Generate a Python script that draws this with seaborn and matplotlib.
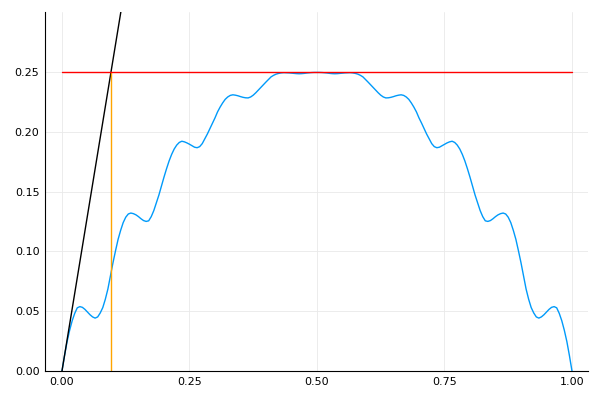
import pandas as pd
import seaborn as sns
import matplotlib
matplotlib.use("Agg")
import matplotlib.pyplot as plt

# blue curve at steps of 0.005
x_vals = [round(i * 0.005, 3) for i in range(201)]
left_half = [
    0.0, 0.0128, 0.0245, 0.0340, 0.0420, 0.0482, 0.0528, 0.0538, 0.0532, 0.0515,
    0.0493, 0.0470, 0.0452, 0.0442, 0.0452, 0.0485, 0.0530, 0.0600, 0.0685, 0.0795,
    0.0905, 0.1005, 0.1100, 0.1175, 0.1240, 0.1285, 0.1312, 0.1320, 0.1315, 0.1305,
    0.1290, 0.1272, 0.1257, 0.1250, 0.1255, 0.1290, 0.1340, 0.1405, 0.1470, 0.1545,
    0.1620, 0.1690, 0.1755, 0.1810, 0.1855, 0.1888, 0.1910, 0.1920, 0.1915, 0.1906,
    0.1895, 0.1882, 0.1870, 0.1866, 0.1875, 0.1900, 0.1940, 0.1980, 0.2025, 0.2072,
    0.2115, 0.2165, 0.2205, 0.2240, 0.2270, 0.2290, 0.2303, 0.2308, 0.2305, 0.2300,
    0.2293, 0.2287, 0.2283, 0.2282, 0.2290, 0.2305, 0.2325, 0.2347, 0.2370, 0.2393,
    0.2415, 0.2437, 0.2458, 0.2471, 0.2481, 0.2487, 0.2491, 0.2493, 0.2492, 0.2491,
    0.2489, 0.2487, 0.2485, 0.2484, 0.2485, 0.2487, 0.2490, 0.2492, 0.2494, 0.2495,
    0.2495,
]
right_half = [
    0.2495, 0.2494, 0.2492, 0.2490, 0.2487, 0.2485, 0.2484, 0.2485, 0.2487, 0.2489,
    0.2491, 0.2492, 0.2493, 0.2491, 0.2487, 0.2481, 0.2471, 0.2458, 0.2437, 0.2415,
    0.2393, 0.2370, 0.2347, 0.2325, 0.2305, 0.2290, 0.2282, 0.2283, 0.2287, 0.2293,
    0.2300, 0.2305, 0.2308, 0.2303, 0.2290, 0.2270, 0.2240, 0.2205, 0.2165, 0.2115,
    0.2072, 0.2025, 0.1980, 0.1940, 0.1900, 0.1875, 0.1866, 0.1870, 0.1882, 0.1895,
    0.1906, 0.1915, 0.1920, 0.1910, 0.1888, 0.1855, 0.1810, 0.1755, 0.1690, 0.1620,
    0.1545, 0.1470, 0.1405, 0.1340, 0.1290, 0.1255, 0.1250, 0.1257, 0.1272, 0.1290,
    0.1305, 0.1315, 0.1320, 0.1312, 0.1285, 0.1240, 0.1175, 0.1100, 0.1005, 0.0905,
    0.0795, 0.0685, 0.0600, 0.0530, 0.0485, 0.0452, 0.0442, 0.0452, 0.0470, 0.0493,
    0.0515, 0.0532, 0.0538, 0.0528, 0.0482, 0.0420, 0.0340, 0.0245, 0.0128, 0.0,
]
y_vals = left_half + right_half

# straight lines
tangent_x = [0.0, 0.2]
tangent_y = [0.0, 0.52]
level_x = [0.0, 1.0]
level_y = [0.25, 0.25]
cross_x = [0.0962, 0.0962]
cross_y = [0.0, 0.25]

sns.set_style("white")
fig = plt.figure(figsize=(6, 4), dpi=100)
ax = fig.add_axes([0.075, 0.0725, 0.905, 0.8975])

curve = pd.DataFrame({"x": x_vals, "y": y_vals})
opts = dict(linewidth=1.0, estimator=None, sort=False, ax=ax)
sns.lineplot(data=curve, x="x", y="y", color="#009AFA", **opts)
sns.lineplot(x=tangent_x, y=tangent_y, color="black", **opts)
sns.lineplot(x=cross_x, y=cross_y, color="#FFA500", **opts)
sns.lineplot(x=level_x, y=level_y, color="#FF0000", **opts)

ax.set_xlim(-0.0333, 1.0314)
ax.set_ylim(0, 0.3)
ax.set_xticks([0, 0.25, 0.5, 0.75, 1.0])
ax.set_xticklabels(["0.00", "0.25", "0.50", "0.75", "1.00"])
ax.set_yticks([0, 0.05, 0.1, 0.15, 0.2, 0.25])
ax.set_yticklabels(["0.00", "0.05", "0.10", "0.15", "0.20", "0.25"])
ax.grid(True, color="#e9e9e9", linewidth=0.6)
ax.set_axisbelow(True)
ax.tick_params(direction="in", length=3, width=0.6, color="#555555",
               labelsize=8, pad=4, labelcolor="black")
ax.set_xlabel("")
ax.set_ylabel("")
for side in ["top", "right"]:
    ax.spines[side].set_visible(False)
for side in ["left", "bottom"]:
    ax.spines[side].set_color("black")
    ax.spines[side].set_linewidth(0.8)

plt.savefig("out.png")
